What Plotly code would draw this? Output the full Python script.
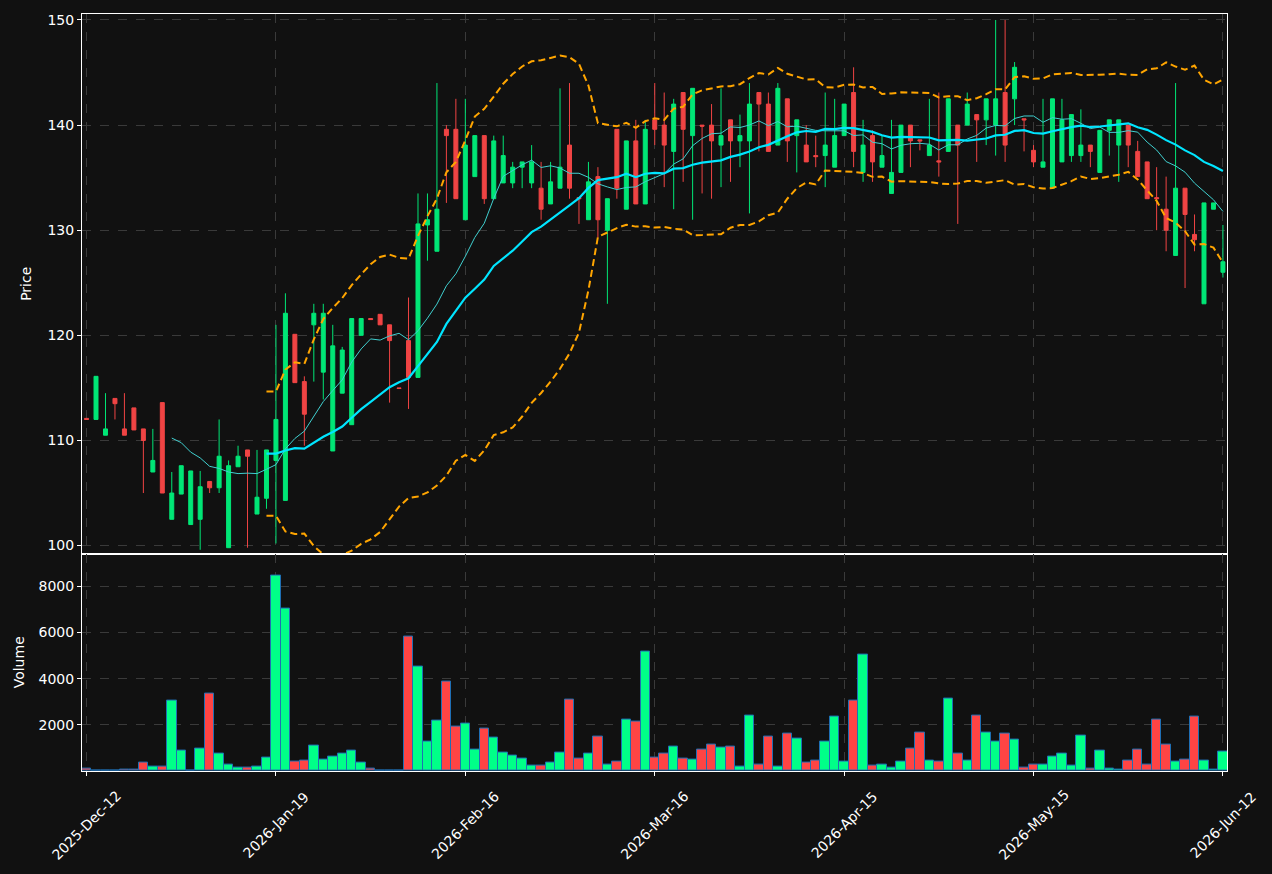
import plotly.graph_objects as go
import pandas as pd

opens = [112.1,112.0,110.5,114.0,111.1,113.1,111.1,107.0,113.6,102.5,
         104.9,102.0,102.5,106.1,105.5,99.8,107.5,109.1,103.0,104.5,
         108.1,104.3,120.1,115.6,121.0,116.5,109.0,114.5,111.5,120.0,
         121.6,122.0,121.0,115.0,119.5,116.0,130.5,128.0,139.6,139.6,
         131.0,135.1,139.0,133.0,134.5,134.5,136.0,134.5,134.0,132.5,
         134.0,138.1,133.1,131.0,135.1,130.0,139.6,132.0,138.5,132.5,
         140.5,140.0,137.5,143.1,139.0,140.0,140.0,138.1,140.5,138.5,
         138.5,143.1,142.0,138.1,142.5,139.0,138.1,137.1,137.1,136.0,
         139.0,143.1,135.5,139.0,136.0,133.5,135.5,140.0,138.6,137.1,
         136.6,137.5,140.0,140.0,141.0,140.5,140.0,143.1,142.5,140.6,
         137.6,136.0,134.0,136.5,137.1,137.1,138.1,135.5,139.5,138.1,
         140.0,137.5,136.5,133.1,132.0,127.6,134.0,129.6,123.0,132.0,126.0]
highs = [112.1,116.1,114.5,114.0,114.5,113.1,111.1,111.1,113.6,107.0,
         107.6,107.1,107.1,106.1,112.0,108.1,109.5,109.1,109.1,109.1,
         121.0,124.0,120.1,116.1,123.0,123.0,121.0,118.9,121.6,121.6,
         121.6,122.0,121.0,115.0,123.6,133.5,133.5,144.0,140.0,142.5,
         142.5,139.0,139.0,139.0,139.0,136.5,136.5,138.1,136.5,136.5,
         143.5,144.0,133.1,136.5,136.0,133.0,139.6,138.5,140.5,140.5,
         144.0,143.1,142.5,143.1,143.5,140.0,142.0,143.5,140.5,141.0,
         144.0,143.1,143.1,144.0,142.5,140.5,140.0,139.0,143.1,142.5,
         142.0,145.5,140.5,139.5,139.0,140.5,140.0,140.0,138.6,142.5,
         143.1,142.5,140.0,143.1,141.0,142.5,150.0,150.0,146.0,140.6,
         138.1,142.5,142.5,142.5,141.0,141.5,138.1,139.5,140.5,140.5,
         140.0,138.5,136.5,136.0,135.1,144.0,134.0,131.5,132.6,132.6,130.5]
lows = [112.0,112.0,110.5,112.0,110.5,111.0,105.0,107.0,105.0,102.5,
        104.9,102.0,99.6,105.0,105.0,99.8,107.5,99.8,103.0,103.5,
        100.2,104.3,115.5,109.5,115.6,113.9,109.0,114.5,111.5,120.0,
        121.5,121.0,113.6,114.95,113.0,116.0,127.1,128.0,132.6,133.0,
        131.0,135.1,132.5,133.0,134.5,134.0,134.0,134.0,131.0,132.5,
        134.0,133.0,130.6,131.0,129.3,123.0,133.0,132.0,132.5,132.5,
        138.1,134.1,132.0,134.6,131.0,133.5,133.0,134.1,134.6,136.0,
        131.6,137.5,137.5,138.1,136.5,135.5,136.5,136.0,134.1,136.0,
        139.0,136.0,134.6,134.6,136.0,133.5,135.5,136.0,137.6,137.1,
        135.1,137.5,130.6,140.0,136.5,138.1,137.1,136.5,140.0,137.5,
        136.0,136.0,134.0,136.5,136.5,136.5,136.0,135.5,137.1,134.6,
        136.0,135.1,133.0,130.0,128.0,127.6,124.5,128.0,123.0,132.0,125.5]
closes = [112.0,116.1,111.1,113.5,110.5,111.0,110.0,108.1,105.0,105.0,
          107.6,107.1,105.6,105.5,108.5,107.6,108.5,108.5,104.6,109.1,
          112.0,122.1,115.5,112.5,122.1,122.1,119.0,118.6,121.6,121.6,
          121.5,121.0,119.5,114.95,116.0,130.6,131.0,132.0,139.0,133.0,
          138.1,139.0,133.0,138.5,137.1,136.0,136.5,136.5,132.0,134.6,
          136.0,134.0,133.0,134.6,131.0,133.0,134.0,138.5,132.5,139.6,
          139.6,138.1,142.0,139.6,143.5,139.9,138.5,139.0,138.5,139.0,
          142.0,142.0,137.5,143.5,138.5,140.5,136.5,137.0,138.1,139.0,
          142.0,137.5,138.1,136.5,137.1,135.5,140.0,138.5,138.5,138.1,
          136.5,142.5,138.1,142.0,140.5,142.5,142.5,138.1,145.5,140.5,
          136.5,136.5,142.5,140.5,141.0,138.1,137.5,139.5,140.5,140.5,
          138.1,135.1,133.0,133.0,130.0,134.0,131.5,129.1,132.6,132.6,127.0]
volumes = [100,30,20,40,60,60,350,200,200,3030,
           890,10,975,3360,740,285,160,140,200,575,
           8480,7020,430,470,1100,515,640,765,890,350,
           100,40,30,20,5830,4530,1290,2170,3860,1935,
           2060,910,1850,1450,805,660,555,240,240,350,
           805,3080,555,765,1495,285,390,2230,2150,5180,
           600,765,1055,555,515,935,1140,1015,1055,200,
           2400,285,1475,200,1640,1390,370,470,1265,2375,
           390,3065,5030,240,285,160,390,975,1665,450,
           390,3130,765,470,2420,1665,1265,1625,1370,160,
           285,285,620,765,240,1540,110,890,110,70,
           470,935,285,2230,1140,430,515,2375,470,50,850]
tick_index = [0, 20, 40, 60, 80, 100, 120]
tick_labels = ['2025-Dec-12', '2026-Jan-19', '2026-Feb-16', '2026-Mar-16',
               '2026-Apr-15', '2026-May-15', '2026-Jun-12']

idx = list(range(len(closes)))
cs = pd.Series(closes)
ma10 = cs.rolling(10).mean()
ma20 = cs.rolling(20).mean()
sd20 = cs.rolling(20).std(ddof=0)
upper = ma20 + 2 * sd20
lower = ma20 - 2 * sd20

UP = '#00e676'
DN = '#f04444'
VUP = '#00ff88'
VDN = '#ff4444'
vol_colors = [VUP if c >= o else VDN for o, c in zip(opens, closes)]

fig = go.Figure()
fig.add_trace(go.Candlestick(
    x=idx, open=opens, high=highs, low=lows, close=closes,
    increasing=dict(line=dict(color=UP, width=1), fillcolor=UP),
    decreasing=dict(line=dict(color=DN, width=1), fillcolor=DN),
    whiskerwidth=0, xaxis='x', yaxis='y', showlegend=False))
fig.add_trace(go.Scatter(x=idx, y=upper, mode='lines', xaxis='x', yaxis='y',
                         line=dict(color='#ffa500', width=2, dash='7px,4px'), showlegend=False))
fig.add_trace(go.Scatter(x=idx, y=lower, mode='lines', xaxis='x', yaxis='y',
                         line=dict(color='#ffa500', width=2, dash='7px,4px'), showlegend=False))
fig.add_trace(go.Scatter(x=idx, y=ma10, mode='lines', xaxis='x', yaxis='y',
                         line=dict(color='#40d0d0', width=1), showlegend=False))
fig.add_trace(go.Scatter(x=idx, y=ma20, mode='lines', xaxis='x', yaxis='y',
                         line=dict(color='#00e5ff', width=2.2), showlegend=False))
fig.add_trace(go.Bar(x=idx, y=volumes, width=1.0, xaxis='x2', yaxis='y2',
                     marker=dict(color=vol_colors, line=dict(color='#1f6fb4', width=1)),
                     showlegend=False))

BG = '#111111'
GRID = '#3a3a3a'
font = dict(family='DejaVu Sans', size=14, color='white')
xr = [-0.48, 120.43]
common_x = dict(range=xr, tickmode='array', tickvals=tick_index, showgrid=True,
                gridcolor=GRID, griddash='dash', gridwidth=1, zeroline=False,
                showline=True, mirror=True, linecolor='white', linewidth=1,
                ticks='outside', ticklen=4, tickcolor='white')
common_y = dict(showgrid=True, gridcolor=GRID, griddash='dash', gridwidth=1,
                zeroline=False, showline=True, mirror=True, linecolor='white',
                linewidth=1, ticks='outside', ticklen=4, tickcolor='white',
                tickfont=font)
split = 218 / 759

annotations = [dict(x=t, y=0, xref='x2', yref='paper', text=lab, showarrow=False,
                    textangle=-45, xanchor='center', yanchor='middle', yshift=-54,
                    font=font)
               for t, lab in zip(tick_index, tick_labels)]

fig.update_layout(
    width=1272, height=874,
    margin=dict(l=82, r=45, t=12, b=103),
    paper_bgcolor=BG, plot_bgcolor=BG,
    font=font,
    boxgap=0.4,
    xaxis=dict(**common_x, domain=[0, 1], anchor='y', showticklabels=False,
               rangeslider=dict(visible=False), matches='x2'),
    yaxis=dict(**common_y, domain=[split, 1], range=[99.24, 150.57],
               tickvals=[100, 110, 120, 130, 140, 150],
               title=dict(text='Price', font=font, standoff=12)),
    xaxis2=dict(**common_x, domain=[0, 1], anchor='y2', showticklabels=False),
    yaxis2=dict(**common_y, domain=[0, split], range=[0, 9420],
                tickvals=[2000, 4000, 6000, 8000],
                title=dict(text='Volume', font=font, standoff=10)),
    bargap=0,
    annotations=annotations,
)
fig.write_html('out.html')
